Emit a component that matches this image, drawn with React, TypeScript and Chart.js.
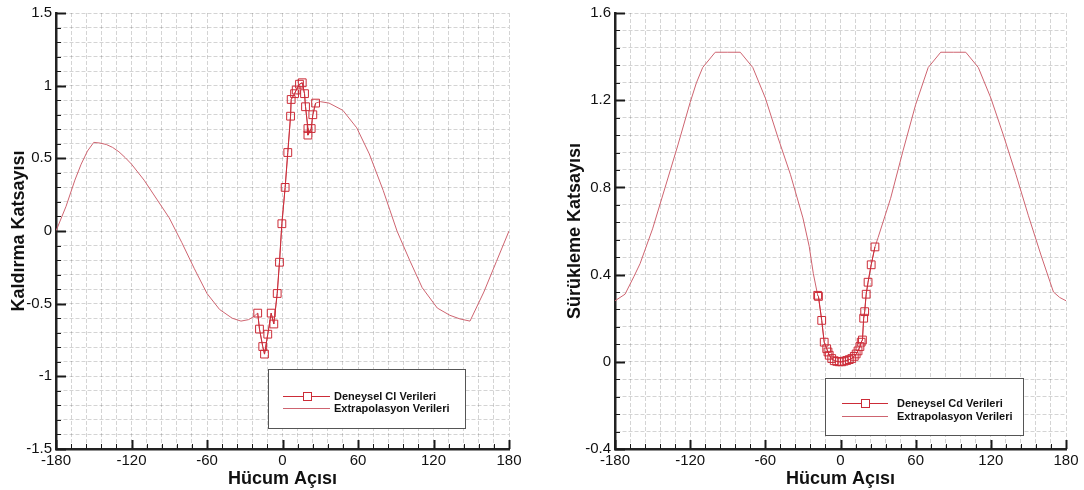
import React, { useEffect, useRef } from "react";
import { Chart, registerables } from "chart.js";
Chart.register(...registerables);

// ---- tick labels ----
const angleTicks = [-180, -120, -60, 0, 60, 120, 180];
const clTicks = [-1.5, -1, -0.5, 0, 0.5, 1, 1.5];
const cdTicks = [-0.4, 0, 0.4, 0.8, 1.2, 1.6];

// ---- Cl (lift) data ----
const clExtLeftAngles = [-180, -172, -165, -160, -155, -150, -145, -140, -135, -130, -125, -120, -110, -100, -90, -80, -70, -60, -50, -40, -33, -27, -23];
const clExtLeftValues = [0, 0.17, 0.35, 0.46, 0.55, 0.61, 0.605, 0.595, 0.575, 0.545, 0.505, 0.46, 0.35, 0.22, 0.09, -0.08, -0.26, -0.43, -0.54, -0.6, -0.62, -0.61, -0.59];
const clExpAngles = [-19.7, -18.3, -15.7, -14.3, -11.7, -9.0, -6.9, -4.2, -2.4, -0.5, 2.1, 4.2, 6.4, 6.9, 9.6, 10.9, 13.5, 15.7, 17.5, 18.3, 20.2, 20.2, 22.8, 24.1, 26.3];
const clExpValues = [-0.565, -0.675, -0.795, -0.847, -0.71, -0.565, -0.64, -0.43, -0.215, 0.05, 0.3, 0.54, 0.79, 0.905, 0.945, 0.97, 1.01, 1.02, 0.945, 0.855, 0.705, 0.66, 0.705, 0.8, 0.88];
const clExtRightAngles = [30, 37, 48, 59, 69, 80, 91, 101, 111, 123, 133, 141, 149, 160, 170, 180];
const clExtRightValues = [0.89, 0.88, 0.83, 0.71, 0.53, 0.28, 0.0, -0.2, -0.39, -0.53, -0.58, -0.605, -0.62, -0.42, -0.21, 0];

// ---- Cd (drag) data ----
const cdExtLeftAngles = [-180, -172, -165, -160, -150, -140, -130, -120, -115, -110, -100, -90, -80, -70, -60, -50, -40, -35, -30, -25, -21.7];
const cdExtLeftValues = [0.28, 0.31, 0.39, 0.45, 0.61, 0.8, 0.99, 1.19, 1.28, 1.35, 1.42, 1.42, 1.42, 1.35, 1.21, 1.03, 0.86, 0.76, 0.66, 0.53, 0.405];
const cdExpAngles = [-18.2, -17.6, -15, -13, -11, -10, -9, -7, -5, -3, -1, 1, 3, 5, 7, 9, 11, 12.5, 14, 15.5, 16.5, 17.5, 18.5, 19.3, 20.5, 22, 24.5, 27.5];
const cdExpValues = [0.305, 0.3, 0.19, 0.09, 0.06, 0.045, 0.03, 0.015, 0.005, 0.002, 0.0, 0.0, 0.003, 0.006, 0.01, 0.015, 0.025, 0.036, 0.05, 0.07, 0.09, 0.1, 0.2, 0.23, 0.31, 0.365, 0.445, 0.527];
const cdExtRightAngles = [30, 40, 50, 60, 70, 80, 90, 100, 110, 120, 130, 140, 150, 160, 170, 175, 180];
const cdExtRightValues = [0.57, 0.75, 0.97, 1.18, 1.35, 1.42, 1.42, 1.42, 1.35, 1.21, 1.04, 0.86, 0.67, 0.49, 0.32, 0.295, 0.28];

const LINE_COLOR = "rgb(206,100,112)";
const MARK_COLOR = "rgb(204,44,56)";
const FONT = "'Liberation Sans', Arial, Helvetica, sans-serif";

function stepValues(min: number, max: number, step: number) {
  const n = Math.round((max - min) / step);
  const out: number[] = [];
  for (let i = 0; i <= n; i++) out.push(Math.round((min + i * step) * 1e6) / 1e6);
  return out;
}
function pts(xs: number[], ys: number[]) {
  return xs.map((x, i) => ({ x, y: ys[i] }));
}
function isMajor(v: number, majors: number[]) {
  return majors.some((m) => Math.abs(m - v) < 1e-6);
}

const decoPlugin = {
  id: "deco",
  afterDraw(chart: any, _args: any, opts: any) {
    const { ctx, chartArea: ca } = chart;
    const xs = chart.scales.x;
    const ys = chart.scales.y;
    ctx.save();
    ctx.strokeStyle = "#1a1a1a";
    xs.ticks.forEach((t: any) => {
      const major = isMajor(t.value, opts.xMajor);
      const px = Math.round(xs.getPixelForValue(t.value)) + 0.5;
      ctx.lineWidth = major ? 2 : 1;
      const len = major ? 9 : 5;
      ctx.beginPath();
      ctx.moveTo(px, ca.bottom);
      ctx.lineTo(px, ca.bottom - len);
      ctx.stroke();
    });
    ys.ticks.forEach((t: any) => {
      const major = isMajor(t.value, opts.yMajor);
      const py = Math.round(ys.getPixelForValue(t.value)) + 0.5;
      ctx.lineWidth = major ? 2 : 1;
      const len = major ? 10 : 5;
      ctx.beginPath();
      ctx.moveTo(ca.left, py);
      ctx.lineTo(ca.left + len, py);
      ctx.stroke();
    });
    // legend box
    const L = opts.legend;
    ctx.fillStyle = "#ffffff";
    ctx.fillRect(L.x, L.y, L.w, L.h);
    ctx.strokeStyle = "#555";
    ctx.lineWidth = 1;
    ctx.strokeRect(L.x + 0.5, L.y + 0.5, L.w, L.h);
    const dsets = chart.data.datasets;
    ctx.font = `bold 11px ${FONT}`;
    ctx.textBaseline = "middle";
    ctx.textAlign = "left";
    ctx.fillStyle = "#111";
    dsets.forEach((ds: any, i: number) => {
      const y = L.rows[i] + 0.5;
      ctx.strokeStyle = ds.borderColor;
      ctx.lineWidth = 1;
      ctx.beginPath();
      ctx.moveTo(L.sx1, y);
      ctx.lineTo(L.sx2, y);
      ctx.stroke();
      if (ds.pointRadius > 0) {
        const c = Math.round((L.sx1 + L.sx2) / 2) + 0.5;
        ctx.fillStyle = "#fff";
        ctx.fillRect(c - 4, y - 4, 8, 8);
        ctx.strokeStyle = MARK_COLOR;
        ctx.strokeRect(c - 4, y - 4, 8, 8);
      }
      ctx.fillStyle = "#111";
      ctx.fillText(ds.label, L.tx, y);
    });
    ctx.restore();
  },
};

function makeConfig(p: any) {
  return {
    type: "scatter",
    data: {
      datasets: [
        {
          label: p.expLabel,
          data: p.exp,
          showLine: true,
          borderColor: MARK_COLOR,
          borderWidth: 1,
          pointStyle: "rect",
          pointRadius: 5.5,
          pointBorderColor: MARK_COLOR,
          pointBackgroundColor: "rgba(0,0,0,0)",
          pointBorderWidth: 1,
          tension: 0,
        },
        {
          label: "Extrapolasyon Verileri",
          data: p.ext,
          showLine: true,
          borderColor: LINE_COLOR,
          borderWidth: 1,
          pointRadius: 0,
          tension: 0,
        },
      ],
    },
    options: {
      responsive: false,
      animation: false,
      events: [],
      devicePixelRatio: 1,
      layout: { padding: { top: p.padTop, right: p.padRight, left: 0, bottom: 0 } },
      plugins: {
        legend: { display: false },
        tooltip: { enabled: false },
        deco: { xMajor: angleTicks, yMajor: p.yTicks, legend: p.legend },
      },
      scales: {
        x: {
          type: "linear",
          min: -180,
          max: 180,
          afterFit: (s: any) => {
            s.height = 41;
          },
          afterBuildTicks: (s: any) => {
            s.ticks = stepValues(-180, 180, 12).map((v) => ({ value: v }));
          },
          ticks: {
            autoSkip: false,
            maxRotation: 0,
            minRotation: 0,
            padding: 3,
            color: "#111",
            font: { family: FONT, size: 15 },
            callback: (v: number) => (isMajor(v, angleTicks) ? String(v) : ""),
          },
          grid: { color: "rgba(0,0,0,0.17)", lineWidth: 1, drawTicks: false },
          border: { display: true, color: "#222", width: 2.5, dash: [4, 2] },
          title: {
            display: true,
            text: "Hücum Açısı",
            color: "#111",
            font: { family: FONT, size: 18, weight: "bold" },
            padding: { top: 0, bottom: 0 },
          },
        },
        y: {
          type: "linear",
          min: p.yMin,
          max: p.yMax,
          afterFit: (s: any) => {
            s.width = p.yWidth;
          },
          afterBuildTicks: (s: any) => {
            s.ticks = stepValues(p.yMin, p.yMax, p.yStep).map((v) => ({ value: v }));
          },
          ticks: {
            autoSkip: false,
            padding: 4,
            color: "#111",
            font: { family: FONT, size: 15 },
            callback: (v: number) => (isMajor(v, p.yTicks) ? String(Math.round(v * 10) / 10) : ""),
          },
          grid: { color: "rgba(0,0,0,0.17)", lineWidth: 1, drawTicks: false },
          border: { display: true, color: "#222", width: 2.5, dash: [4, 2] },
          title: {
            display: true,
            text: p.yTitle,
            color: "#111",
            font: { family: FONT, size: 18, weight: "bold" },
            padding: { top: p.yTitlePad, bottom: 0 },
          },
        },
      },
    },
    plugins: [decoPlugin],
  };
}

function Panel({ left, width, config }: { left: number; width: number; config: any }) {
  const ref = useRef<HTMLCanvasElement | null>(null);
  useEffect(() => {
    if (!ref.current) return;
    const chart = new Chart(ref.current, config);
    return () => chart.destroy();
  }, []);
  return (
    <div style={{ position: "absolute", left, top: 0, width, height: 490 }}>
      <canvas ref={ref} width={width} height={490} style={{ display: "block" }} />
    </div>
  );
}

const clConfig = makeConfig({
  expLabel: "Deneysel Cl Verileri",
  exp: pts(clExpAngles, clExpValues),
  ext: [...pts(clExtLeftAngles, clExtLeftValues), ...pts(clExpAngles, clExpValues), ...pts(clExtRightAngles, clExtRightValues)],
  yMin: -1.5,
  yMax: 1.5,
  yStep: 0.1,
  yTicks: clTicks,
  yTitle: "Kaldırma Katsayısı",
  yWidth: 56,
  yTitlePad: 8,
  padTop: 13,
  padRight: 31,
  legend: { x: 268, y: 369, w: 197, h: 59, rows: [396, 408], sx1: 283, sx2: 330, tx: 334 },
});

const cdConfig = makeConfig({
  expLabel: "Deneysel Cd Verileri",
  exp: pts(cdExpAngles, cdExpValues),
  ext: [...pts(cdExtLeftAngles, cdExtLeftValues), ...pts(cdExpAngles, cdExpValues), ...pts(cdExtRightAngles, cdExtRightValues)],
  yMin: -0.4,
  yMax: 1.6,
  yStep: 0.08,
  yTicks: cdTicks,
  yTitle: "Sürükleme Katsayısı",
  yWidth: 75,
  yTitlePad: 24,
  padTop: 12.5,
  padRight: 18,
  legend: { x: 285, y: 378, w: 198, h: 57, rows: [403, 416], sx1: 302, sx2: 348, tx: 357 },
});

export default function App() {
  return (
    <div style={{ position: "absolute", left: 0, top: 0, width: 1084, height: 490, background: "#fff" }}>
      <Panel left={0} width={540} config={clConfig} />
      <Panel left={540} width={544} config={cdConfig} />
    </div>
  );
}
